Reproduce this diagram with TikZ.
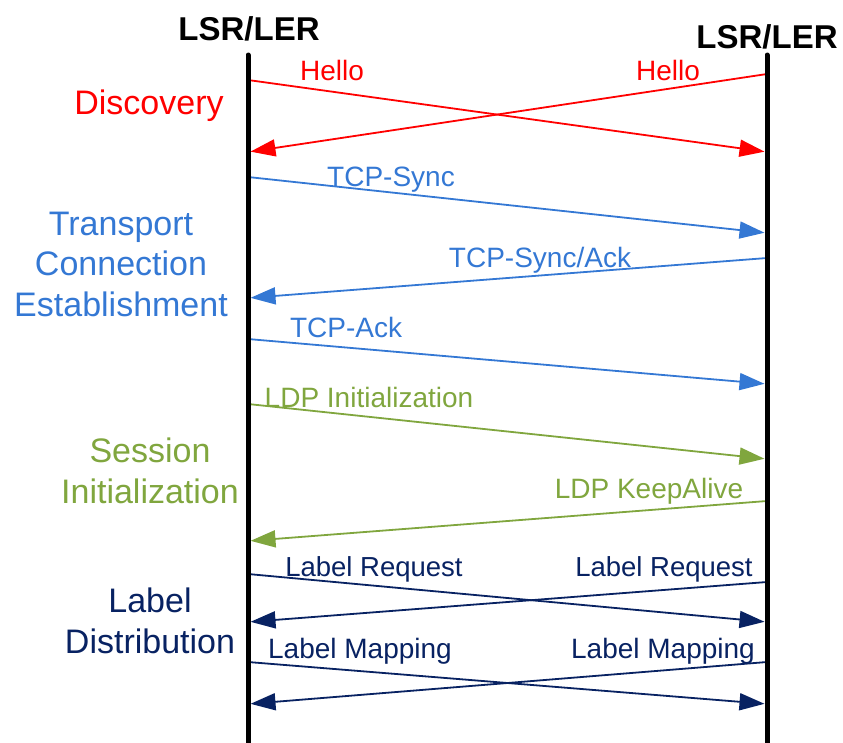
\documentclass[tikz,border=0pt]{standalone}
\usepackage{fontspec}
\setmainfont{Liberation Sans}
\usetikzlibrary{arrows.meta}

\definecolor{discred}{RGB}{255,0,0}
\definecolor{tcpblue}{RGB}{52,120,212}
\definecolor{sessgreen}{RGB}{128,166,62}
\definecolor{lblnavy}{RGB}{8,34,98}

\tikzset{
  lifeline/.style={line width=5pt, line cap=round},
  msg/.style={line width=1.8pt, -{Triangle[length=25pt,width=17pt]}, shorten >=2.5pt},
  msglabel/.style={anchor=base, inner sep=0pt, font=\fontsize{28}{30}\selectfont},
  phase/.style={align=center, inner sep=0pt, font=\fontsize{34}{40.5}\selectfont},
  entity/.style={anchor=base, inner sep=0pt, font=\fontsize{33}{36}\bfseries\selectfont},
}

\begin{document}
\begin{tikzpicture}[x=1pt, y=-1pt]
  \useasboundingbox (0,0) rectangle (843,742);

  % entities and their lifelines
  \node[entity] (ent-a) at (249,40) {LSR/LER};
  \node[entity] (ent-b) at (767,48) {LSR/LER};
  \coordinate (a-top) at (248,55);
  \coordinate (a-bot) at (248,745);
  \coordinate (b-top) at (767,55);
  \coordinate (b-bot) at (767,745);

  % message end points on the two lifelines
  \foreach \n/\y in {1/80, 2/152, 3/177, 4/298, 5/339, 6/404, 7/541, 8/574, 9/622, 10/662, 11/704}
    \coordinate (a\n) at (248,\y);
  \foreach \n/\y in {1/74, 2/152, 3/233, 4/258, 5/384, 6/459, 7/501, 8/582, 9/622, 10/662, 11/704}
    \coordinate (b\n) at (767,\y);

  % Discovery
  \draw[msg, discred] (a1) -- (b2);
  \draw[msg, discred] (b1) -- (a2);
  \node[msglabel, text=discred] (hello-a) at (332,80) {Hello};
  \node[msglabel, text=discred] (hello-b) at (668,80) {Hello};
  \node[phase, anchor=base, text=discred] (ph-disc) at (149,114) {Discovery};

  % Transport connection establishment
  \draw[msg, tcpblue] (a3) -- (b3);
  \draw[msg, tcpblue] (b4) -- (a4);
  \draw[msg, tcpblue] (a5) -- (b5);
  \node[msglabel, text=tcpblue] (tcp-sync) at (391,186) {TCP-Sync};
  \node[msglabel, text=tcpblue] (tcp-syncack) at (540,267) {TCP-Sync/Ack};
  \node[msglabel, text=tcpblue] (tcp-ack) at (346,337) {TCP-Ack};
  \node[phase, text=tcpblue] (ph-tcp) at (121,264) {Transport\\Connection\\Establishment};

  % Session initialization
  \draw[msg, sessgreen] (a6) -- (b6);
  \draw[msg, sessgreen] (b7) -- (a7);
  \node[msglabel, text=sessgreen] (ldp-init) at (369,407) {LDP Initialization};
  \node[msglabel, text=sessgreen] (ldp-ka) at (649,498) {LDP KeepAlive};
  \node[phase, text=sessgreen] (ph-sess) at (150,471) {Session\\Initialization};

  % Label distribution
  \draw[msg, lblnavy] (a8) -- (b9);
  \draw[msg, lblnavy] (b8) -- (a9);
  \draw[msg, lblnavy] (a10) -- (b11);
  \draw[msg, lblnavy] (b10) -- (a11);
  \node[msglabel, text=lblnavy, font=\fontsize{27.5}{30}\selectfont] (req-a) at (374,576) {Label Request};
  \node[msglabel, text=lblnavy, font=\fontsize{27.5}{30}\selectfont] (req-b) at (664,576) {Label Request};
  \node[msglabel, text=lblnavy] (map-a) at (360,658) {Label Mapping};
  \node[msglabel, text=lblnavy] (map-b) at (663,658) {Label Mapping};
  \node[phase, text=lblnavy] (ph-lbl) at (150,621) {Label\\Distribution};

  % lifelines drawn last so the message tails sit under them
  \draw[lifeline] (a-top) -- (a-bot);
  \draw[lifeline] (b-top) -- (b-bot);
\end{tikzpicture}
\end{document}
